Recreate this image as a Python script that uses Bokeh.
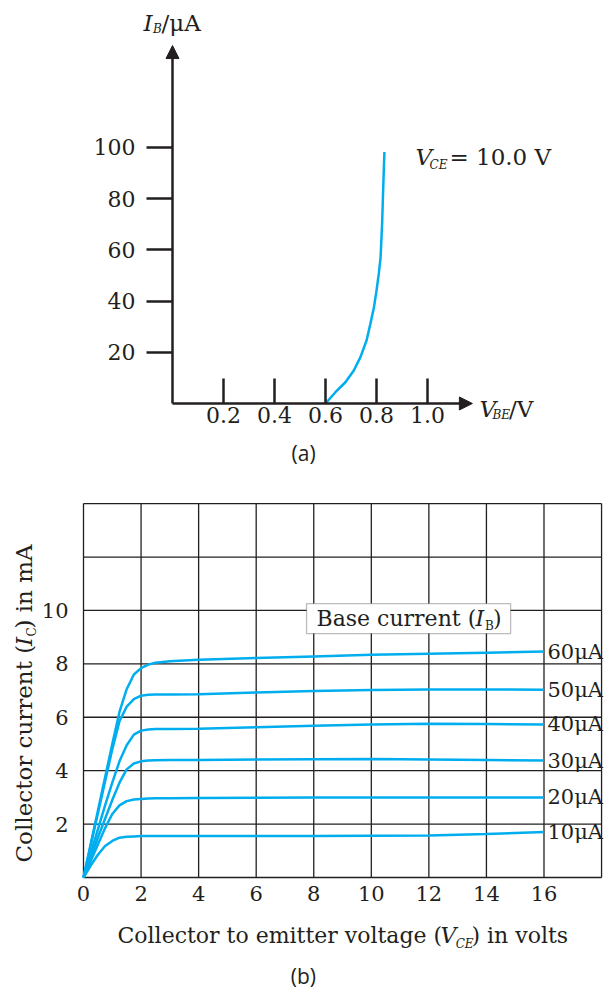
import numpy as np
from bokeh.plotting import figure
from bokeh.layouts import column
from bokeh.models import Label, Arrow, NormalHead, FixedTicker, BoxAnnotation, Range1d, NumeralTickFormatter
from bokeh.embed import file_html
from bokeh.resources import INLINE

# ---------------- data ----------------
# (a) input characteristic, V_CE = 10 V
vbe = [0.600, 0.639, 0.678, 0.711, 0.737, 0.761, 0.776, 0.790, 0.800, 0.809, 0.816, 0.822, 0.826, 0.831]
ib = [0, 4.4, 8.3, 12.9, 18.1, 24.6, 31.1, 37.6, 44.1, 50.7, 57.1, 70.2, 83.2, 98.2]
vbe_ticks = [0.2, 0.4, 0.6, 0.8, 1.0]
ib_ticks = [20, 40, 60, 80, 100]

# (b) output characteristics
vce = [0, 0.25, 0.5, 0.75, 1.0, 1.25, 1.5, 1.75, 2.0, 2.25, 2.5, 3, 4, 6, 8, 10, 12, 14, 16]
ic_60 = [0, 1.25, 2.5, 3.75, 5.0, 6.2, 7.05, 7.6, 7.84, 7.97, 8.04, 8.1, 8.15, 8.22, 8.28, 8.34, 8.38, 8.42, 8.46]
ic_50 = [0, 1.2, 2.4, 3.6, 4.8, 5.85, 6.4, 6.68, 6.81, 6.84, 6.85, 6.85, 6.86, 6.93, 6.98, 7.02, 7.04, 7.04, 7.03]
ic_40 = [0, 0.9, 1.8, 2.7, 3.55, 4.35, 4.95, 5.35, 5.5, 5.54, 5.56, 5.56, 5.57, 5.63, 5.68, 5.73, 5.76, 5.75, 5.73]
ic_30 = [0, 0.75, 1.5, 2.2, 2.9, 3.55, 4.05, 4.27, 4.35, 4.38, 4.39, 4.4, 4.4, 4.42, 4.43, 4.44, 4.42, 4.40, 4.38]
ic_20 = [0, 0.62, 1.24, 1.85, 2.38, 2.7, 2.86, 2.92, 2.94, 2.96, 2.97, 2.97, 2.98, 2.99, 3.0, 3.0, 3.0, 3.0, 3.0]
ic_10 = [0, 0.45, 0.85, 1.18, 1.37, 1.49, 1.53, 1.54, 1.55, 1.55, 1.55, 1.55, 1.55, 1.55, 1.55, 1.56, 1.57, 1.63, 1.70]
series = [("60", ic_60), ("50", ic_50), ("40", ic_40), ("30", ic_30), ("20", ic_20), ("10", ic_10)]
vce_ticks = [0, 2, 4, 6, 8, 10, 12, 14, 16]
vce_grid = [0, 2, 4, 6, 8, 10, 12, 14, 16, 18]
ic_ticks = [2, 4, 6, 8, 10]
ic_grid = [0, 2, 4, 6, 8, 10, 12, 14]

INK = "#231F20"
CYAN = "#00AEEF"
SERIF = "DejaVu Serif"
FS = "22px"

def lab(p, x, y, text, size=FS, style="normal", align="left", font=SERIF, angle=0):
    p.add_layout(Label(x=x, y=y, text=text, text_font=font, text_font_size=size,
                       text_font_style=style, text_color=INK, text_align=align,
                       text_baseline="middle", angle=angle))

def style_axis(ax, size):
    ax.fixed_location = 0
    ax.minor_tick_line_color = None
    ax.major_label_text_font = SERIF
    ax.major_label_text_font_size = size
    ax.major_label_text_color = INK

# ---------------- (a) ----------------
pa = figure(width=609, height=470, x_range=Range1d(-0.6745, 1.7137), y_range=Range1d(-26.17, 157.4),
            output_backend="svg", toolbar_location=None,
            min_border_left=0, min_border_right=0, min_border_top=0, min_border_bottom=0)
pa.xgrid.visible = False
pa.ygrid.visible = False
pa.outline_line_color = None
for ax in (pa.xaxis[0], pa.yaxis[0]):
    style_axis(ax, FS)
    ax.axis_line_color = INK
    ax.axis_line_width = 2.5
    ax.major_tick_line_color = INK
    ax.major_tick_line_width = 2.5
pa.xaxis.ticker = FixedTicker(ticks=vbe_ticks)
pa.xaxis.formatter = NumeralTickFormatter(format="0.0")
pa.xaxis.bounds = (0, 1.14)
pa.xaxis.major_tick_in = 25
pa.xaxis.major_tick_out = 0
pa.xaxis.major_label_standoff = 4
pa.yaxis.ticker = FixedTicker(ticks=ib_ticks)
pa.yaxis.bounds = (0, 136)
pa.yaxis.major_tick_in = 0
pa.yaxis.major_tick_out = 26
pa.yaxis.major_label_standoff = 11

pa.line(vbe, ib, line_color=CYAN, line_width=2.5)

pa.add_layout(Arrow(end=NormalHead(size=13, fill_color=INK, line_color=INK), x_start=0, y_start=130,
                    x_end=0, y_end=139.8, line_color=None))
pa.add_layout(Arrow(end=NormalHead(size=13, fill_color=INK, line_color=INK), x_start=1.10, y_start=0,
                    x_end=1.176, y_end=0, line_color=None))

lab(pa, -0.114, 148.8, "I", size="23px", style="italic")
lab(pa, -0.0765, 146.1, "B", size="12px", style="italic")
lab(pa, -0.043, 148.8, "/μA", size="23px")
lab(pa, 1.204, -2.34, "V", size="23px", style="italic")
lab(pa, 1.255, -4.3, "BE", size="12px", style="italic")
lab(pa, 1.32, -2.34, "/V", size="23px")
lab(pa, 0.953, 96.3, "V", size="23px", style="italic")
lab(pa, 1.008, 93.0, "CE", size="12px", style="italic")
lab(pa, 1.086, 96.3, "= 10.0 V", size="23px")
lab(pa, 0.514, -19.5, "(a)", size="21px", align="center", font="Open Sans")

# ---------------- (b) ----------------
pb = figure(width=609, height=519, x_range=Range1d(-2.884, 18.276), y_range=Range1d(-4.193, 15.24),
            output_backend="svg", toolbar_location=None,
            min_border_left=0, min_border_right=0, min_border_top=0, min_border_bottom=0)
pb.outline_line_color = None
pb.xgrid.visible = False
pb.ygrid.visible = False
pb.segment(x0=vce_grid, y0=[ic_grid[0]] * len(vce_grid), x1=vce_grid, y1=[ic_grid[-1]] * len(vce_grid),
           line_color=INK, line_width=1.3)
pb.segment(x0=[vce_grid[0]] * len(ic_grid), y0=ic_grid, x1=[vce_grid[-1]] * len(ic_grid), y1=ic_grid,
           line_color=INK, line_width=1.3)
for ax in (pb.xaxis[0], pb.yaxis[0]):
    style_axis(ax, "21px")
    ax.axis_line_color = None
    ax.major_tick_line_color = None
    ax.major_tick_in = 0
    ax.major_tick_out = 0
pb.xaxis.ticker = FixedTicker(ticks=vce_ticks)
pb.xaxis.major_label_standoff = 8
pb.yaxis.ticker = FixedTicker(ticks=ic_ticks)
pb.yaxis.major_label_standoff = 15

for name, ic in series:
    pb.line(vce, ic, line_color=CYAN, line_width=2.5)
    lab(pb, vce[-1] + 0.12, ic[-1], name + "μA", size="21px")

pb.add_layout(BoxAnnotation(left=7.75, right=14.84, bottom=9.135, top=10.258, fill_color="white",
                            fill_alpha=1.0, line_color=INK, line_width=1.3, level="annotation"))
lab(pb, 8.096, 9.7, "Base current (", size="22px")
lab(pb, 13.62, 9.7, "I", size="22px", style="italic")
lab(pb, 13.95, 9.42, "B", size="12px")
lab(pb, 14.23, 9.7, ")", size="22px")

lab(pb, 1.181, -2.17, "Collector to emitter voltage (", size="22px")
lab(pb, 12.40, -2.17, "V", size="22px", style="italic")
lab(pb, 12.93, -2.5, "CE", size="12px", style="italic")
lab(pb, 13.48, -2.17, ") in volts", size="22px")
lab(pb, 7.64, -3.67, "(b)", size="21px", align="center", font="Open Sans")

lab(pb, -2.08, 0.562, "Collector current (", size="23px", angle=np.pi / 2)
lab(pb, -2.08, 8.667, "I", size="23px", style="italic", angle=np.pi / 2)
lab(pb, -1.80, 9.023, "C", size="12px", angle=np.pi / 2)
lab(pb, -2.08, 9.322, ") in mA", size="23px", angle=np.pi / 2)

layout = column(pa, pb)
open("out.html", "w").write(file_html(layout, INLINE))
